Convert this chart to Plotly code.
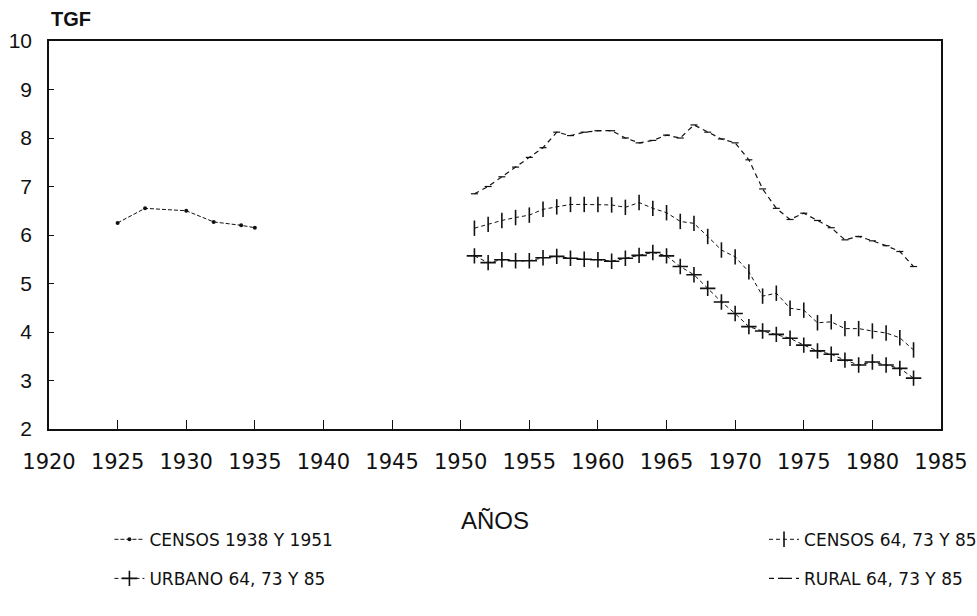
import plotly.graph_objects as go

# ---- data ----
censos_38_years = [1925, 1927, 1930, 1932, 1934, 1935]
censos_38_tgf = [6.25, 6.55, 6.50, 6.27, 6.20, 6.15]

years_64 = list(range(1951, 1984))
top_tgf = [6.85, 7.00, 7.20, 7.40, 7.60, 7.80, 8.12, 8.05, 8.12, 8.15, 8.15,
           8.00, 7.90, 7.95, 8.06, 8.00, 8.27, 8.12, 7.98, 7.90, 7.55, 6.95,
           6.55, 6.32, 6.45, 6.30, 6.15, 5.90, 5.97, 5.88, 5.78, 5.66, 5.35]
mid_tgf = [6.14, 6.22, 6.30, 6.36, 6.41, 6.53, 6.58, 6.63, 6.63, 6.63, 6.62,
           6.57, 6.67, 6.55, 6.46, 6.28, 6.24, 5.97, 5.69, 5.55, 5.24, 4.74,
           4.80, 4.49, 4.45, 4.19, 4.21, 4.07, 4.07, 4.02, 3.98, 3.88, 3.63]
low_tgf = [5.57, 5.43, 5.49, 5.47, 5.47, 5.53, 5.56, 5.52, 5.50, 5.49, 5.46,
           5.52, 5.58, 5.64, 5.57, 5.35, 5.18, 4.90, 4.62, 4.38, 4.11, 4.02,
           3.95, 3.87, 3.73, 3.61, 3.54, 3.42, 3.32, 3.38, 3.32, 3.25, 3.05]

x_ticks = list(range(1920, 1986, 5))
y_ticks = list(range(2, 11))

FONT = "Liberation Sans"
WIDE = "DejaVu Sans"
ink = "#111111"

fig = go.Figure()
fig.add_trace(go.Scatter(x=censos_38_years, y=censos_38_tgf, mode="lines+markers",
                         name="CENSOS 1938 Y 1951", legend="legend", legendgroup="a",
                         line=dict(color=ink, width=1, dash="4px,2px"),
                         marker=dict(symbol="circle", size=4, color=ink)))
fig.add_trace(go.Scatter(x=years_64, y=low_tgf, mode="lines+markers",
                         name="URBANO 64, 73 Y 85", legend="legend", legendgroup="b",
                         line=dict(color=ink, width=1, dash="4px,3px"),
                         marker=dict(symbol="cross-thin", size=11,
                                     line=dict(color=ink, width=1.6))))
fig.add_trace(go.Scatter(x=years_64, y=mid_tgf, mode="lines+markers",
                         name="CENSOS 64, 73 Y 85", legend="legend2", legendgroup="c",
                         line=dict(color=ink, width=1, dash="4px,3px"),
                         marker=dict(symbol="line-ns", size=11,
                                     line=dict(color=ink, width=1.6))))
fig.add_trace(go.Scatter(x=years_64, y=top_tgf, mode="lines+markers",
                         name="RURAL 64, 73 Y 85", legend="legend2", legendgroup="d",
                         line=dict(color=ink, width=1.2, dash="5px,4px"),
                         marker=dict(symbol="line-ew", size=5,
                                     line=dict(color=ink, width=1.2))))

leg_common = dict(orientation="v", xref="container", yref="container",
                  xanchor="left", yanchor="top", y=0.153,
                  font=dict(size=17, family=WIDE, color=ink),
                  tracegroupgap=14, itemwidth=30, bgcolor="rgba(0,0,0,0)")

fig.update_layout(
    width=977, height=616,
    margin=dict(l=49, r=36, t=41, b=187, autoexpand=False),
    paper_bgcolor="white", plot_bgcolor="white",
    font=dict(family=FONT, color=ink),
    showlegend=True,
    legend=dict(x=0.112, **leg_common),
    legend2=dict(x=0.782, **leg_common),
    xaxis=dict(range=[1920, 1985], tickvals=x_ticks, ticks="inside", ticklen=9,
               tickcolor=ink, showline=True, linecolor=ink, linewidth=1.6,
               mirror=True, showgrid=False, zeroline=False, automargin=False,
               ticklabelstandoff=13,
               tickfont=dict(size=21, family=WIDE, color=ink)),
    yaxis=dict(range=[2, 10], tickvals=y_ticks, ticks="inside", ticklen=5,
               tickcolor=ink, showline=True, linecolor=ink, linewidth=1.6,
               mirror=True, showgrid=False, zeroline=False, automargin=False,
               ticklabelstandoff=11,
               tickfont=dict(size=21, family=FONT, color=ink)),
    annotations=[
        dict(text="<b>TGF</b>", xref="paper", yref="paper", x=0.0, y=1.0,
             xanchor="left", yanchor="middle", yshift=22, showarrow=False,
             font=dict(size=20, family=FONT, color=ink)),
        dict(text="AÑOS", xref="paper", yref="paper", x=0.5, y=-0.235,
             xanchor="center", yanchor="middle", showarrow=False,
             font=dict(size=24, family=FONT, color=ink)),
    ],
)

fig.write_html("out.html", config={"displayModeBar": False},
               post_script="document.body.style.margin='0';document.body.style.overflow='hidden';")
